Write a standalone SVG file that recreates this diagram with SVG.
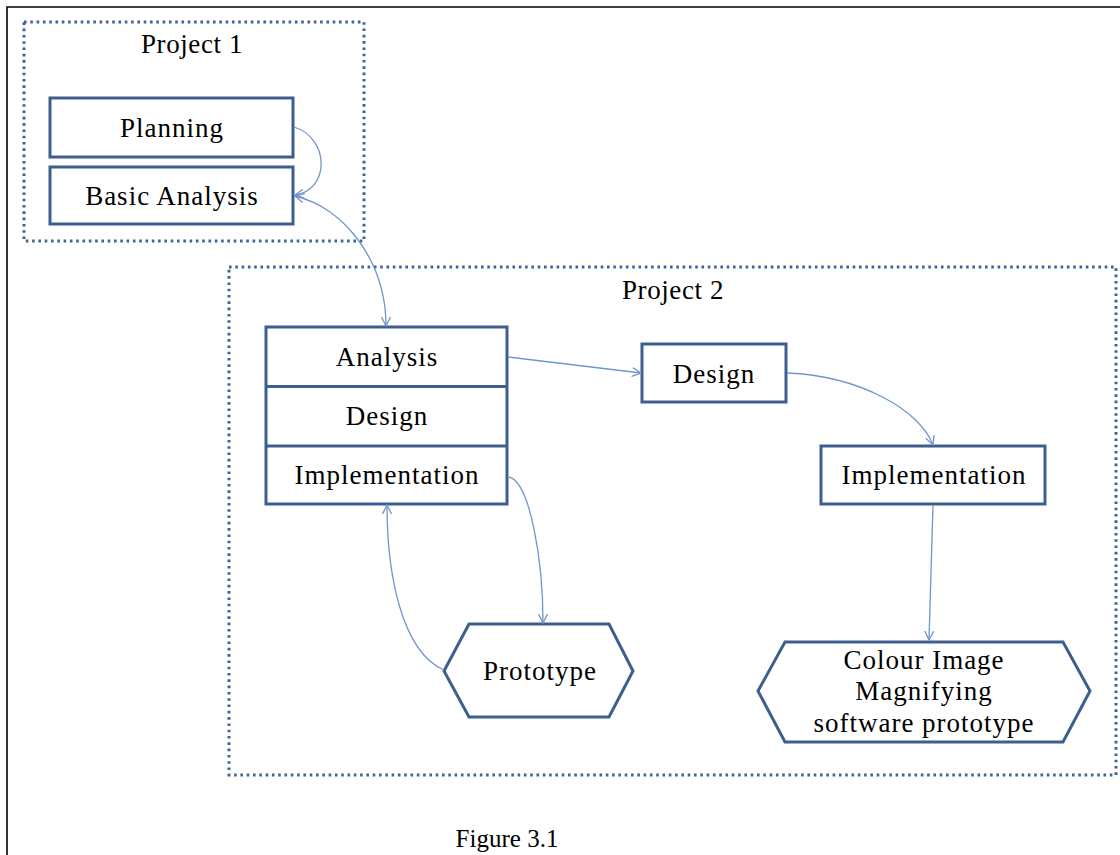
<svg xmlns="http://www.w3.org/2000/svg" width="1120" height="855" viewBox="0 0 1120 855">
  <style>
    .frame { fill: none; stroke: #000; stroke-width: 1.6; }
    .group { fill: none; stroke: #3f6496; stroke-width: 3; stroke-dasharray: 2.6 3.7; }
    .box { fill: #fff; stroke: #3d5f8e; stroke-width: 3; stroke-linejoin: miter; }
    .div { stroke: #3d5f8e; stroke-width: 3; }
    .label { font-family: "Liberation Serif", "Times New Roman", serif; font-size: 27px; fill: #000; text-anchor: middle; letter-spacing: 1px; }
    .title { letter-spacing: 0.6px; }
    .caption { font-family: "Liberation Serif", "Times New Roman", serif; font-size: 25px; fill: #000; text-anchor: middle; }
    .conn { fill: none; stroke: #6f97cc; stroke-width: 1.3; }
  </style>
  <defs>
    <marker id="arrow" viewBox="0 0 10 10" refX="9" refY="5" markerWidth="10" markerHeight="10" markerUnits="userSpaceOnUse" orient="auto-start-reverse">
      <path d="M0,0.5 L9,5 L0,9.5" fill="none" stroke="#6f97cc" stroke-width="1.3"/>
    </marker>
  </defs>

  <rect width="1120" height="855" fill="#fff"/>

  <!-- page frame: top and left edges -->
  <path class="frame" d="M7,855 V7 H1120"/>

  <!-- Project 1 group -->
  <g id="project1">
    <rect class="group" x="24" y="22" width="340" height="219"/>
    <text class="label title" x="192" y="53">Project 1</text>
  </g>

  <g id="planning">
    <rect class="box" x="50" y="98" width="243" height="59"/>
    <text class="label" x="172" y="137">Planning</text>
  </g>

  <g id="basic-analysis">
    <rect class="box" x="50" y="167" width="243" height="57"/>
    <text class="label" x="172" y="205">Basic Analysis</text>
  </g>

  <!-- Project 2 group -->
  <g id="project2">
    <rect class="group" x="229" y="267" width="887" height="508"/>
    <text class="label title" x="673" y="299">Project 2</text>
  </g>

  <g id="stack">
    <rect class="box" x="266" y="327" width="241" height="177"/>
    <line class="div" x1="266" y1="386.5" x2="507" y2="386.5"/>
    <line class="div" x1="266" y1="446" x2="507" y2="446"/>
    <text class="label" x="387" y="366">Analysis</text>
    <text class="label" x="387" y="425">Design</text>
    <text class="label" x="387" y="484">Implementation</text>
  </g>

  <g id="design">
    <rect class="box" x="642" y="344" width="144" height="58"/>
    <text class="label" x="714" y="383">Design</text>
  </g>

  <g id="implementation">
    <rect class="box" x="821" y="446" width="224" height="58"/>
    <text class="label" x="934" y="484">Implementation</text>
  </g>

  <g id="prototype">
    <polygon class="box" points="444,671 469,624 609,624 633,671 609,717 469,717"/>
    <text class="label" x="540" y="680">Prototype</text>
  </g>

  <g id="colour-prototype">
    <polygon class="box" points="758,691 785,642 1063,642 1090,691 1063,742 785,742"/>
    <text class="label" x="924" y="669">Colour Image</text>
    <text class="label" x="924" y="700">Magnifying</text>
    <text class="label" x="924" y="732">software prototype</text>
  </g>

  <!-- connectors -->
  <g id="connectors">
    <path class="conn" d="M294,127 C330,138 330,190 295,195" marker-end="url(#arrow)"/>
    <path class="conn" d="M295,196 C345,208 386,262 386,326" marker-start="url(#arrow)" marker-end="url(#arrow)"/>
    <path class="conn" d="M508,357 L641,373" marker-end="url(#arrow)"/>
    <path class="conn" d="M787,373 C860,376 920,410 933,445" marker-end="url(#arrow)"/>
    <path class="conn" d="M933,505 L929,640" marker-end="url(#arrow)"/>
    <path class="conn" d="M509,477 C530,482 543,560 543,623" marker-end="url(#arrow)"/>
    <path class="conn" d="M444,670 C402,652 387,575 387,505" marker-end="url(#arrow)"/>
  </g>

  <text class="caption" x="507" y="847">Figure 3.1</text>
</svg>
